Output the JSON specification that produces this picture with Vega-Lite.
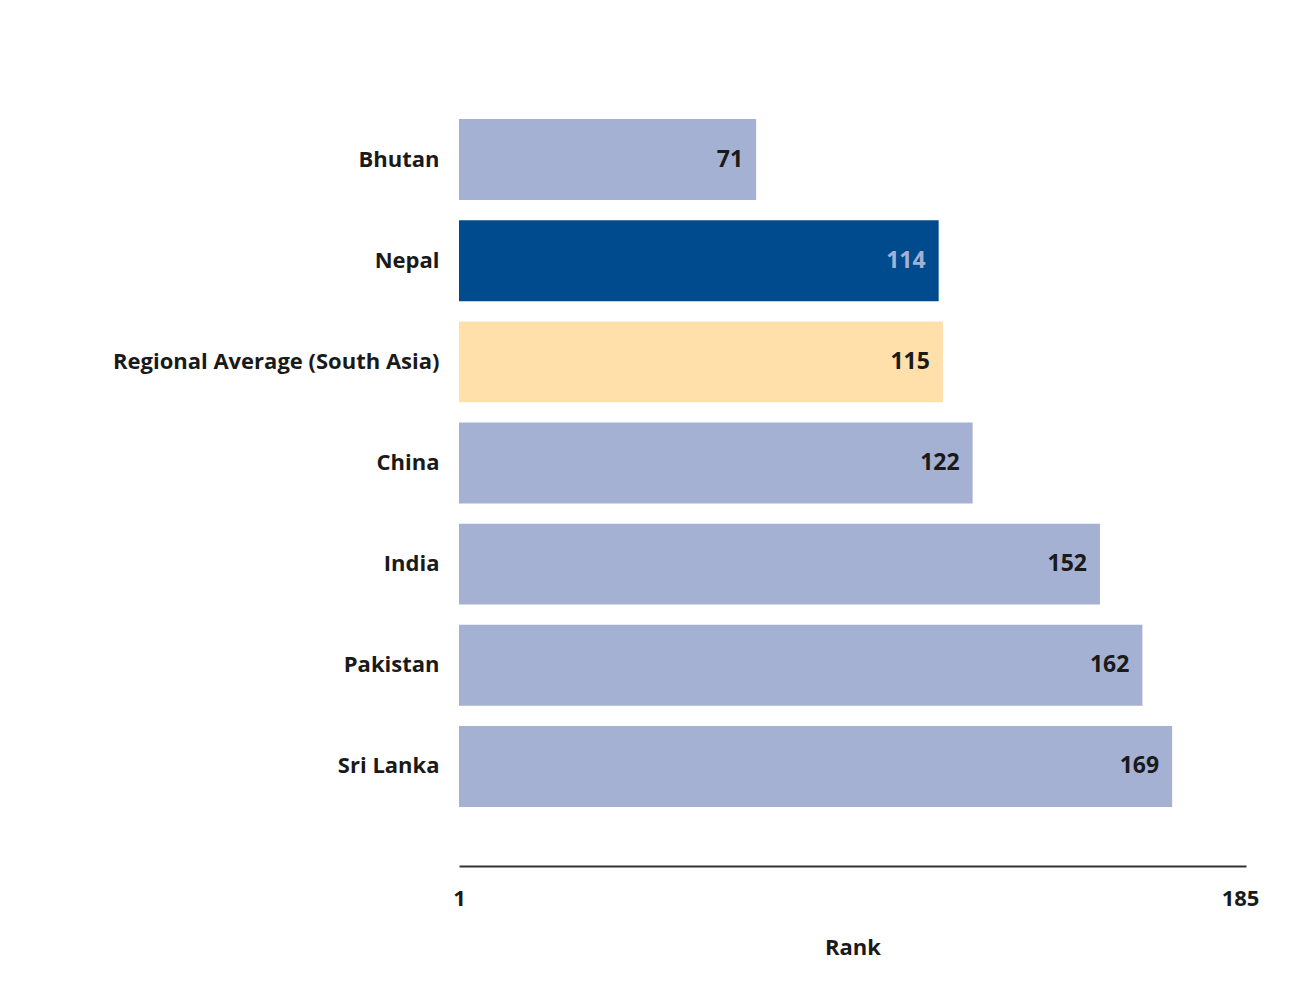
{
  "$schema": "https://vega.github.io/schema/vega-lite/v6.json",
  "autosize": {"type": "none"},
  "width": 787,
  "height": 708,
  "padding": {"left": 459, "top": 109, "right": 59, "bottom": 184},
  "background": "white",
  "data": {"values": [
    {"country": "Bhutan", "rank": 71, "group": "Country"},
    {"country": "Nepal", "rank": 114, "group": "Nepal"},
    {"country": "Regional Average (South Asia)", "rank": 115, "group": "Regional"},
    {"country": "China", "rank": 122, "group": "Country"},
    {"country": "India", "rank": 152, "group": "Country"},
    {"country": "Pakistan", "rank": 162, "group": "Country"},
    {"country": "Sri Lanka", "rank": 169, "group": "Country"}
  ]},
  "encoding": {
    "y": {
      "field": "country", "type": "nominal", "sort": null,
      "scale": {"paddingInner": 0.2, "paddingOuter": 0.1},
      "axis": {"title": null, "domain": false, "ticks": false, "labelPadding": 20, "labelLimit": 0,
               "labelFont": "Open Sans", "labelFontWeight": "bold", "labelFontSize": 22, "labelColor": "#1a1a1a"}
    }
  },
  "layer": [
    {
      "mark": {"type": "bar"},
      "encoding": {
        "x": {"field": "rank", "type": "quantitative",
              "scale": {"domain": [1, 186.4], "zero": false, "nice": false},
              "axis": {"values": [1, 185], "grid": false, "ticks": false, "offset": 49,
                       "domainColor": "#333333", "domainWidth": 2, "labelFlush": false,
                       "labelPadding": 22, "labelFont": "Open Sans", "labelFontWeight": "bold",
                       "labelFontSize": 22, "labelColor": "#1a1a1a",
                       "title": "Rank", "titleFont": "Open Sans", "titleFontWeight": "bold",
                       "titleFontSize": 22, "titleColor": "#1a1a1a", "titlePadding": 28}},
        "x2": {"datum": 1},
        "color": {"field": "group", "type": "nominal",
                  "scale": {"domain": ["Country", "Nepal", "Regional"], "range": ["#A4B1D3", "#004B8D", "#FFE0AA"]},
                  "legend": null}
      }
    },
    {
      "mark": {"type": "text", "align": "right", "baseline": "middle", "dx": -13,
               "font": "Open Sans", "fontWeight": "bold", "fontSize": 23},
      "encoding": {
        "x": {"field": "rank", "type": "quantitative"},
        "text": {"field": "rank", "type": "quantitative"},
        "color": {"condition": {"test": "datum.country === 'Nepal'", "value": "#A4B1D3"}, "value": "#1a1a1a"}
      }
    }
  ],
  "config": {"view": {"stroke": null}}
}
